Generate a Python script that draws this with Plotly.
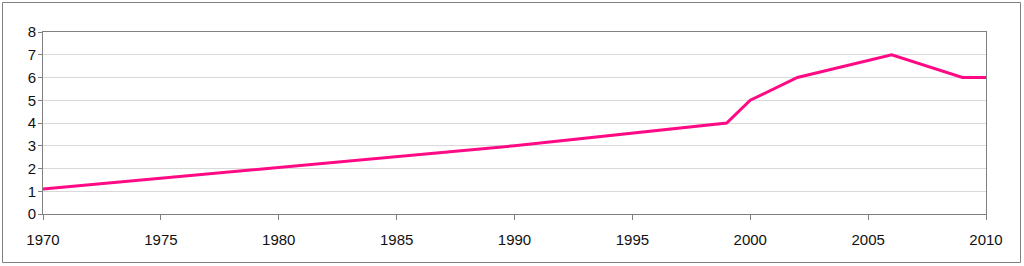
import plotly.graph_objects as go

years = [1970, 1980, 1990, 1999, 2000, 2002, 2006, 2009, 2010]
values = [1.1, 2.05, 3.0, 4.0, 5.0, 6.0, 7.0, 6.0, 6.0]
x_ticks = [1970, 1975, 1980, 1985, 1990, 1995, 2000, 2005, 2010]
y_ticks = [0, 1, 2, 3, 4, 5, 6, 7, 8]

L, R, T, B = 43, 38, 32, 52
W, H = 1024, 266
pw, ph = W - L - R, H - T - B

fig = go.Figure(go.Scatter(x=years, y=values, mode="lines",
                           line=dict(color="#FF0A84", width=3), hoverinfo="skip"))

fig.update_layout(
    width=W, height=H, margin=dict(l=L, r=R, t=T, b=B),
    paper_bgcolor="white", plot_bgcolor="white", showlegend=False,
    font=dict(family="Liberation Sans, Arial, sans-serif", size=15, color="#111111"),
    shapes=[dict(type="rect", xref="paper", yref="paper",
                 x0=(2.5 - L) / pw, x1=(W - 3.5 - L) / pw,
                 y0=-(H - 3.5 - (T + ph)) / ph, y1=1 + (T - 2.5) / ph,
                 line=dict(color="#808080", width=1))],
)
fig.update_xaxes(range=[1970, 2010], tickvals=x_ticks, ticktext=[str(t) for t in x_ticks],
                 showgrid=False, zeroline=False, showline=True, linecolor="#808080", linewidth=1,
                 mirror=True, ticks="outside", ticklen=5, tickcolor="#808080",
                 ticklabelstandoff=7)
fig.update_yaxes(range=[0, 8], tickvals=y_ticks, showgrid=True, gridcolor="#D9D9D9",
                 zeroline=False, showline=True, linecolor="#808080", linewidth=1,
                 mirror=True, ticks="outside", ticklen=4, tickcolor="#808080",
                 ticklabelstandoff=-1)

fig.write_html("out.html")
